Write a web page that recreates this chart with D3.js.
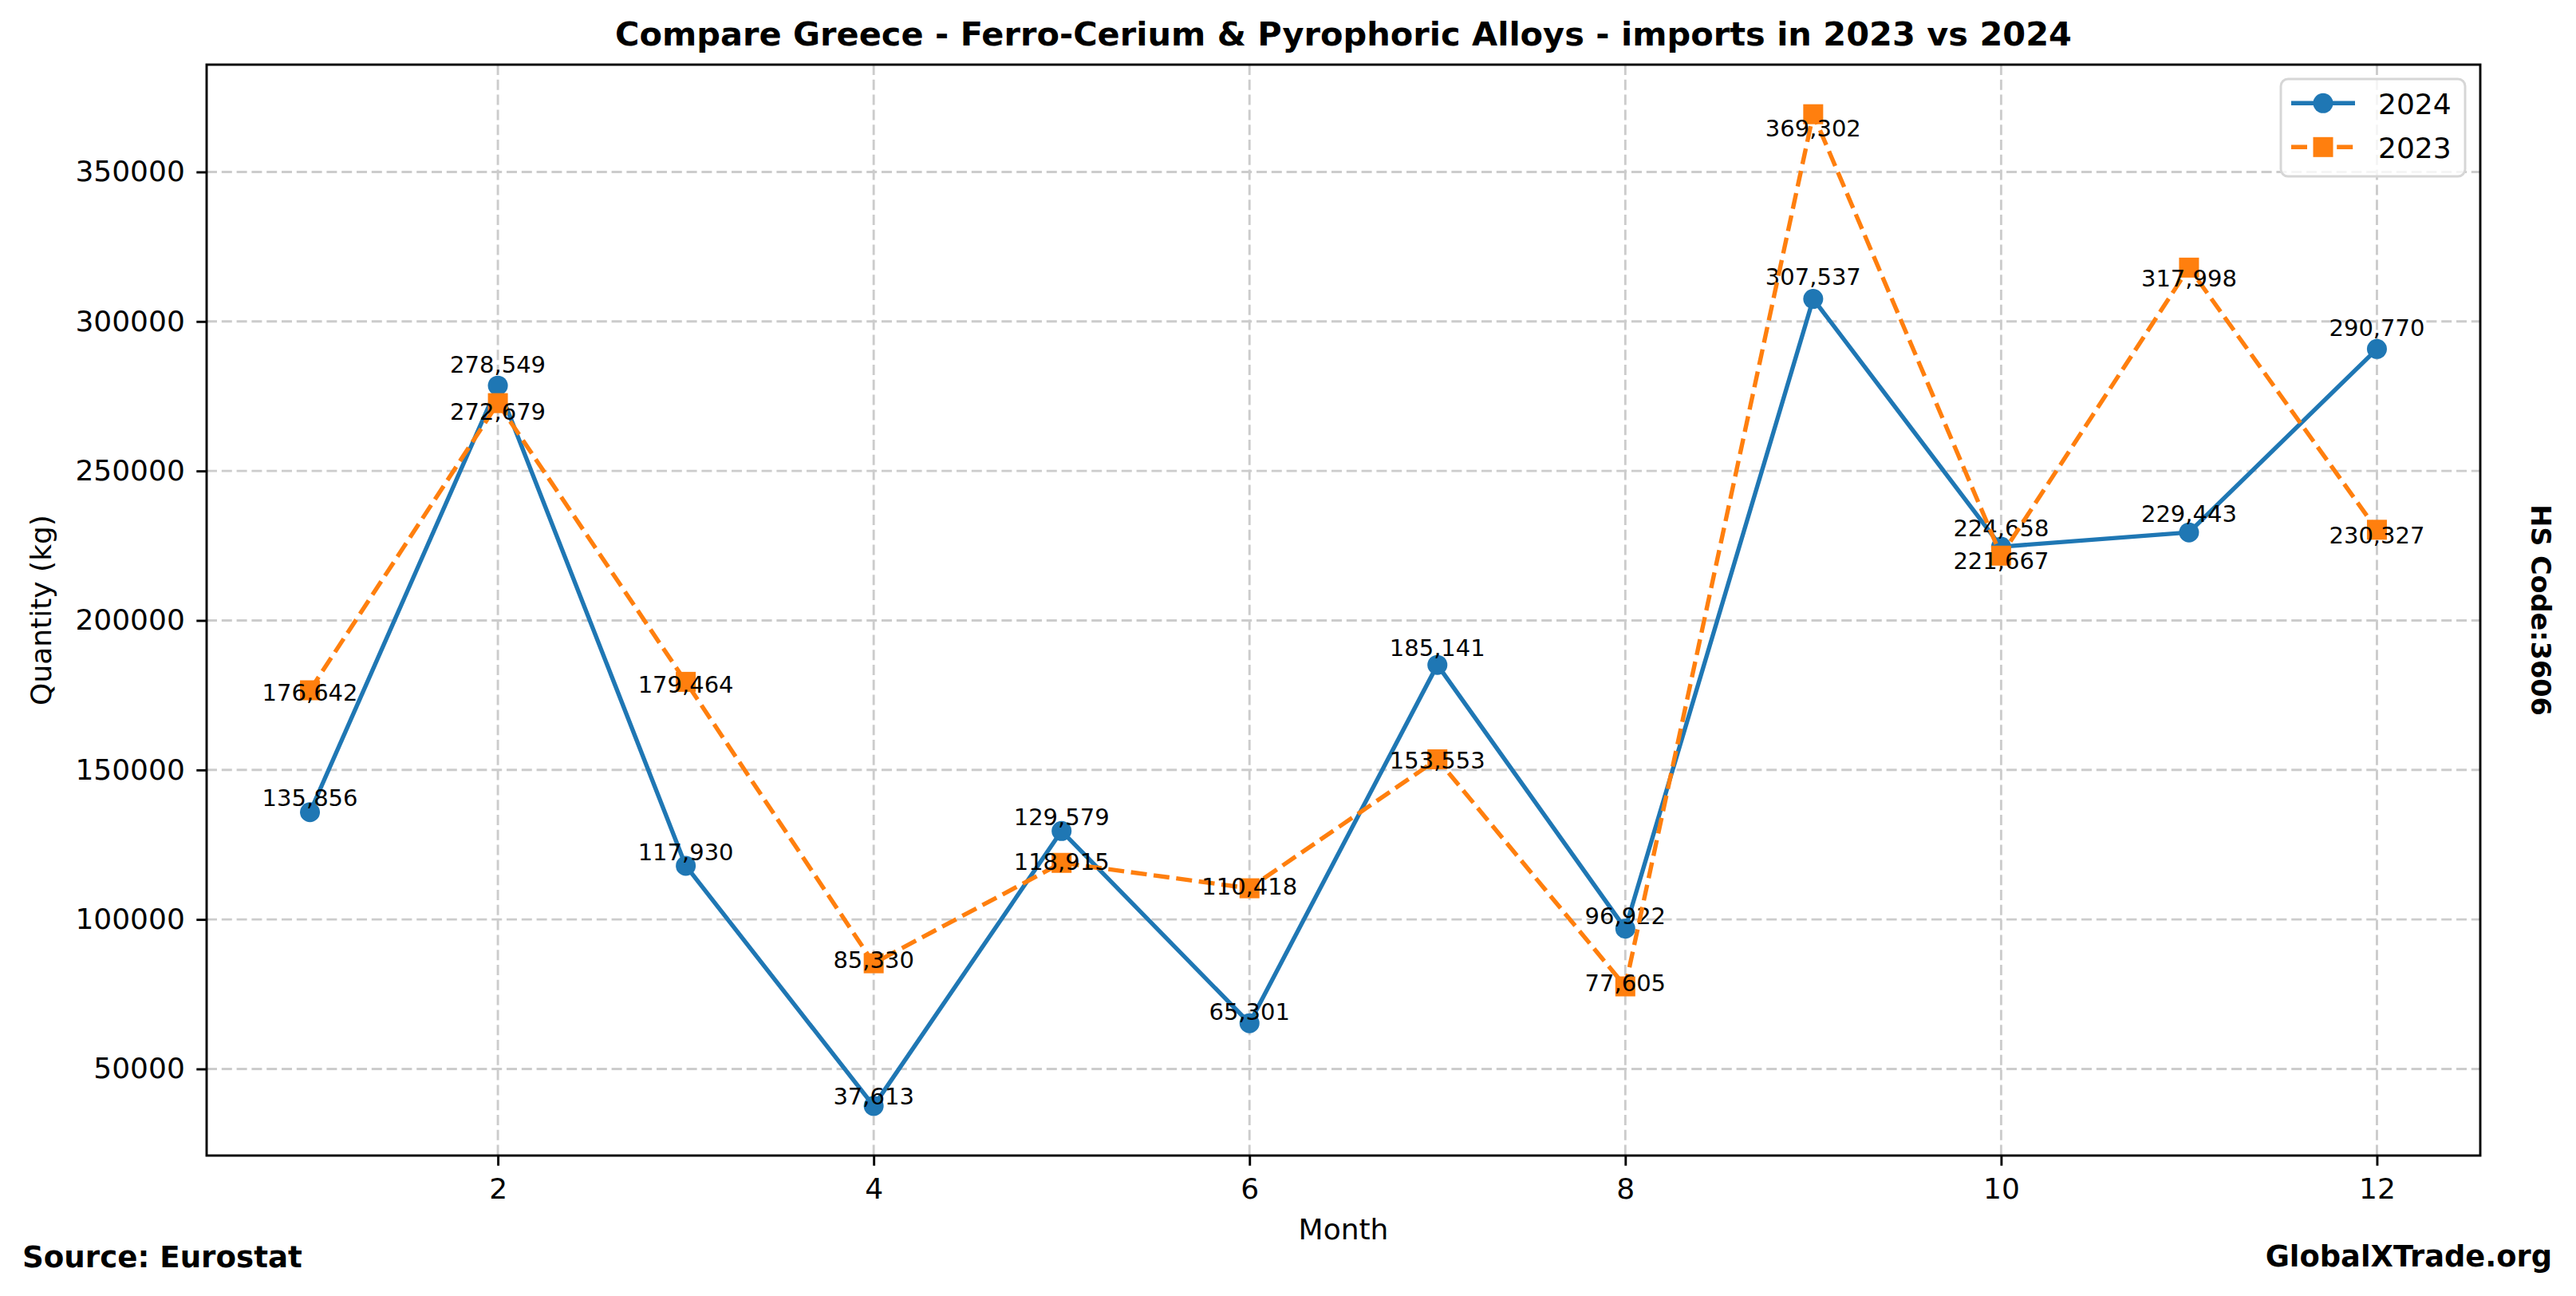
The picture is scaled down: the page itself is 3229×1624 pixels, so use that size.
<!DOCTYPE html>
<html>
<head>
<meta charset="utf-8">
<script src="https://cdn.jsdelivr.net/npm/d3@7"></script>
<style>
  html, body { margin: 0; padding: 0; background: #ffffff; }
  svg { display: block; }
  text { font-family: "DejaVu Sans", sans-serif; }
</style>
</head>
<body>
<script>
// ---------------- data ----------------
const months = [1, 2, 3, 4, 5, 6, 7, 8, 9, 10, 11, 12];
const values2024 = [135856, 278549, 117930, 37613, 129579, 65301, 185141, 96922, 307537, 224658, 229443, 290770];
const values2023 = [176642, 272679, 179464, 85330, 118915, 110418, 153553, 77605, 369302, 221667, 317998, 230327];
const seriesNames = ["2024", "2023"];
const yTickValues = [50000, 100000, 150000, 200000, 250000, 300000, 350000];
const xTickValues = [2, 4, 6, 8, 10, 12];
const titleText = "Compare Greece - Ferro-Cerium & Pyrophoric Alloys - imports in 2023 vs 2024";
const xLabelText = "Month";
const yLabelText = "Quantity (kg)";
const sideText = "HS Code:3606";
const sourceText = "Source: Eurostat";
const brandText = "GlobalXTrade.org";

// ---------------- styles ----------------
const W = 3229, H = 1624;
const plot = { left: 259, right: 3109, top: 81, bottom: 1448 };
const styles = {
  "2024": { color: "#1f77b4", dash: null, marker: "circle", labelFactor: 1.0154 },
  "2023": { color: "#ff7f0e", dash: "20,8.6", marker: "square", labelFactor: 0.98 }
};
const lineW = 5.4, markerSize = 25, tickLen = 12.7, spineW = 2.9;
const tickFont = 36, annFont = 29, titleFont = 41.5;

const seriesData = [
  { name: seriesNames[0], values: values2024 },
  { name: seriesNames[1], values: values2023 }
];

const svg = d3.select("body").append("svg")
  .attr("width", W).attr("height", H)
  .attr("viewBox", `0 0 ${W} ${H}`);
svg.append("rect").attr("width", W).attr("height", H).attr("fill", "#ffffff");

// scales with matplotlib-like 5% margins
const xMinD = d3.min(months), xMaxD = d3.max(months);
const xPad = (xMaxD - xMinD) * 0.05;
const allVals = values2024.concat(values2023);
const yMinD = d3.min(allVals), yMaxD = d3.max(allVals);
const yPad = (yMaxD - yMinD) * 0.05;

const x = d3.scaleLinear().domain([xMinD - xPad, xMaxD + xPad]).range([plot.left, plot.right]);
const y = d3.scaleLinear().domain([yMinD - yPad, yMaxD + yPad]).range([plot.bottom, plot.top]);

// grid
const grid = svg.append("g").attr("class", "grid");
grid.selectAll("line.gx").data(xTickValues).join("line")
  .attr("x1", d => x(d)).attr("x2", d => x(d))
  .attr("y1", plot.top).attr("y2", plot.bottom)
  .attr("stroke", "#cccccc").attr("stroke-width", 2.9)
  .attr("stroke-dasharray", "13,5.8");
grid.selectAll("line.gy").data(yTickValues).join("line")
  .attr("x1", plot.left).attr("x2", plot.right)
  .attr("y1", d => y(d)).attr("y2", d => y(d))
  .attr("stroke", "#cccccc").attr("stroke-width", 2.9)
  .attr("stroke-dasharray", "13,5.8");

// axes
const xAxis = d3.axisBottom(x).tickValues(xTickValues).tickSize(tickLen).tickPadding(15.5)
  .tickFormat(d3.format("d"));
const yAxis = d3.axisLeft(y).tickValues(yTickValues).tickSize(tickLen).tickPadding(14.5)
  .tickFormat(d3.format("d"));

const gx = svg.append("g").attr("transform", `translate(0,${plot.bottom})`).call(xAxis);
const gy = svg.append("g").attr("transform", `translate(${plot.left},0)`).call(yAxis);
[gx, gy].forEach(g => {
  g.select(".domain").remove();
  g.selectAll(".tick line").attr("stroke", "#000").attr("stroke-width", spineW);
  g.selectAll(".tick text").attr("fill", "#000")
    .style("font-family", "DejaVu Sans").style("font-size", tickFont + "px");
});

// series
const lineGen = d3.line().x((d, i) => x(months[i])).y(d => y(d));
const fmt = d3.format(",");

seriesData.forEach(s => {
  const st = styles[s.name];
  const g = svg.append("g").attr("class", "series-" + s.name);
  g.append("path").datum(s.values)
    .attr("d", lineGen)
    .attr("fill", "none")
    .attr("stroke", st.color)
    .attr("stroke-width", lineW)
    .attr("stroke-linejoin", "round")
    .attr("stroke-linecap", st.dash ? "butt" : "round")
    .attr("stroke-dasharray", st.dash);
  if (st.marker === "circle") {
    g.selectAll("circle").data(s.values).join("circle")
      .attr("cx", (d, i) => x(months[i])).attr("cy", d => y(d))
      .attr("r", markerSize / 2).attr("fill", st.color);
  } else {
    g.selectAll("rect").data(s.values).join("rect")
      .attr("x", (d, i) => x(months[i]) - markerSize / 2)
      .attr("y", d => y(d) - markerSize / 2)
      .attr("width", markerSize).attr("height", markerSize)
      .attr("fill", st.color);
  }
  g.selectAll("text").data(s.values).join("text")
    .attr("x", (d, i) => x(months[i]))
    .attr("y", d => y(d * st.labelFactor))
    .attr("text-anchor", "middle")
    .style("font-size", annFont + "px")
    .attr("fill", "#000")
    .text(d => fmt(d));
});

// spines
svg.append("rect")
  .attr("x", plot.left).attr("y", plot.top)
  .attr("width", plot.right - plot.left).attr("height", plot.bottom - plot.top)
  .attr("fill", "none").attr("stroke", "#000").attr("stroke-width", spineW);

// legend
const lg = svg.append("g").attr("class", "legend");
lg.append("rect")
  .attr("x", 2859).attr("y", 99).attr("width", 231).attr("height", 122)
  .attr("rx", 9).attr("ry", 9)
  .attr("fill", "#ffffff").attr("fill-opacity", 0.8)
  .attr("stroke", "#d6d6d6").attr("stroke-width", 2.9);
seriesData.forEach((s, i) => {
  const st = styles[s.name];
  const cy = 129.3 + i * 55;
  lg.append("line").attr("x1", 2872).attr("x2", 2952).attr("y1", cy).attr("y2", cy)
    .attr("stroke", st.color).attr("stroke-width", lineW)
    .attr("stroke-dasharray", st.dash);
  if (st.marker === "circle") {
    lg.append("circle").attr("cx", 2912).attr("cy", cy).attr("r", markerSize / 2).attr("fill", st.color);
  } else {
    lg.append("rect").attr("x", 2912 - markerSize / 2).attr("y", cy - markerSize / 2)
      .attr("width", markerSize).attr("height", markerSize).attr("fill", st.color);
  }
  lg.append("text").attr("x", 2981).attr("y", cy + 13.4)
    .style("font-size", "36px").attr("fill", "#000").text(s.name);
});

// titles and labels
const cxPlot = (plot.left + plot.right) / 2;
const cyPlot = (plot.top + plot.bottom) / 2;
svg.append("text").attr("x", cxPlot).attr("y", 57)
  .attr("text-anchor", "middle").style("font-size", titleFont + "px").style("font-weight", "bold")
  .text(titleText);
svg.append("text").attr("x", cxPlot).attr("y", 1553)
  .attr("text-anchor", "middle").style("font-size", "36px").text(xLabelText);
svg.append("text").attr("transform", `translate(64,${cyPlot}) rotate(-90)`)
  .attr("text-anchor", "middle").style("font-size", "36px").text(yLabelText);
svg.append("text").attr("transform", `translate(3173,${cyPlot}) rotate(90)`)
  .attr("text-anchor", "middle").style("font-size", "33.5px").style("font-weight", "bold").text(sideText);
svg.append("text").attr("x", 28).attr("y", 1588)
  .style("font-size", "37.2px").style("font-weight", "bold").text(sourceText);
svg.append("text").attr("x", 3199).attr("y", 1587).attr("text-anchor", "end")
  .style("font-size", "36.8px").style("font-weight", "bold").text(brandText);
</script>
</body>
</html>
